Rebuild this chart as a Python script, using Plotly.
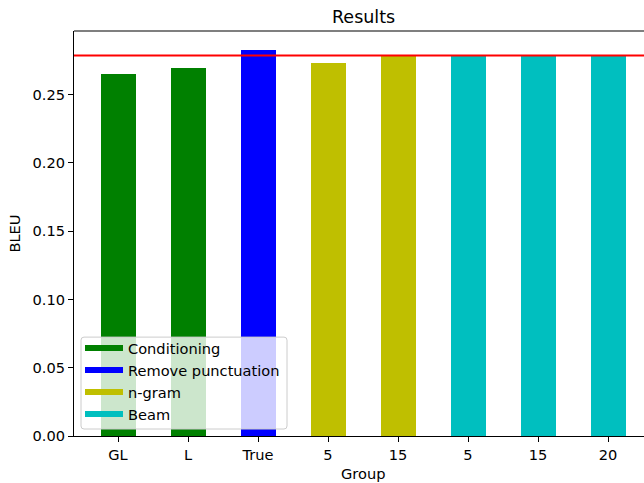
import plotly.graph_objects as go

# Bar groups, tick labels and BLEU scores
tick_labels = ["GL", "L", "True", "5", "15", "5", "15", "20"]
groups = ["Conditioning", "Conditioning", "Remove punctuation",
          "n-gram", "n-gram", "Beam", "Beam", "Beam"]
bleu = [0.2651, 0.2692, 0.2824, 0.2732, 0.2790, 0.2779, 0.2781, 0.2780]
baseline = 0.2785

legend_order = ["Conditioning", "Remove punctuation", "n-gram", "Beam"]
colors = {
    "Conditioning": "#008000",
    "Remove punctuation": "#0000ff",
    "n-gram": "#bfbf00",
    "Beam": "#00bfbf",
}

W, H = 644, 483
left, right, top, bottom = 74, 0, 30.5, 47
plot_w = W - left - right
plot_h = H - top - bottom
unit = 70.0                      # pixels per category
x_lo = -44.0 / unit
x_hi = x_lo + plot_w / unit
y_hi = max(bleu) * 1.05

fs = 14.6
font = "DejaVu Sans, Liberation Sans, sans-serif"


def px_x(px):
    return (px - left) / plot_w


def px_y(px):
    return (H - bottom - px) / plot_h


fig = go.Figure()

xs = list(range(len(bleu)))
fig.add_trace(go.Bar(
    x=xs, y=bleu, width=0.5,
    marker=dict(color=[colors[g] for g in groups], line=dict(width=0)),
    showlegend=False, hoverinfo="skip",
))

# Legend handles drawn as thick lines
for name in legend_order:
    fig.add_trace(go.Scatter(
        x=[None], y=[None], mode="lines", name=name,
        line=dict(color=colors[name], width=6),
    ))

# Reference line across the axes
fig.add_shape(type="line", xref="paper", yref="y", x0=0, x1=1,
              y0=baseline, y1=baseline, line=dict(color="#ff0000", width=2))
# Top spine
fig.add_shape(type="line", xref="paper", yref="paper", x0=0, x1=1,
              y0=1, y1=1, line=dict(color="black", width=1.1))

# Semi-transparent legend frame with rounded corners
bx0, bx1, by0, by1 = px_x(81), px_x(287), px_y(429), px_y(337)
rx, ry = 3 / plot_w, 3 / plot_h
frame = (
    f"M {bx0 + rx} {by1} L {bx1 - rx} {by1} Q {bx1} {by1} {bx1} {by1 - ry} "
    f"L {bx1} {by0 + ry} Q {bx1} {by0} {bx1 - rx} {by0} "
    f"L {bx0 + rx} {by0} Q {bx0} {by0} {bx0} {by0 + ry} "
    f"L {bx0} {by1 - ry} Q {bx0} {by1} {bx0 + rx} {by1} Z"
)
fig.add_shape(type="path", xref="paper", yref="paper", path=frame,
              fillcolor="rgba(255,255,255,0.8)", layer="above",
              line=dict(color="#cccccc", width=1))

fig.update_layout(
    width=W, height=H,
    margin=dict(l=left, r=right, t=top, b=bottom, pad=0),
    paper_bgcolor="white", plot_bgcolor="white",
    font=dict(family=font, size=fs, color="black"),
    bargap=0,
    xaxis=dict(
        range=[x_lo, x_hi], tickvals=xs, ticktext=tick_labels,
        showgrid=False, zeroline=False, showline=True, linecolor="black",
        linewidth=1.1, ticks="outside", ticklen=5, tickcolor="black",
        tickfont=dict(size=fs),
    ),
    yaxis=dict(
        range=[0, y_hi], tickvals=[0, 0.05, 0.10, 0.15, 0.20, 0.25],
        ticktext=["0.00", "0.05", "0.10", "0.15", "0.20", "0.25"],
        showgrid=False, zeroline=False, showline=True, linecolor="black",
        linewidth=1.1, ticks="outside", ticklen=5, tickcolor="black",
        tickfont=dict(size=fs),
        title=dict(text="BLEU", font=dict(size=fs), standoff=8),
    ),
    legend=dict(
        x=px_x(80), y=px_y(430),
        xanchor="left", yanchor="bottom",
        bgcolor="rgba(0,0,0,0)", borderwidth=0,
        font=dict(size=fs), itemwidth=38, tracegroupgap=0,
    ),
    annotations=[
        dict(text="Results", xref="paper", yref="paper",
             x=px_x(363), y=1, yshift=14,
             xanchor="center", yanchor="middle", showarrow=False,
             font=dict(size=17.5)),
        dict(text="Group", xref="paper", yref="paper",
             x=px_x(363), y=0, yshift=-37,
             xanchor="center", yanchor="middle", showarrow=False,
             font=dict(size=fs)),
    ],
)

fig.write_html("out.html")
